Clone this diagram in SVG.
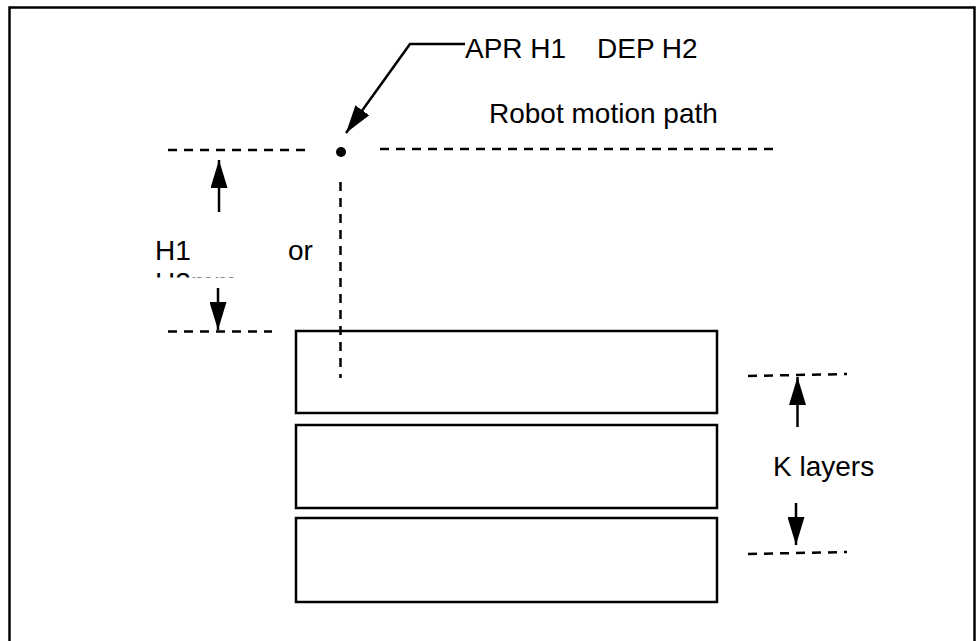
<svg xmlns="http://www.w3.org/2000/svg" width="976" height="641" viewBox="0 0 976 641">
<style>
.t{font-family:"Liberation Sans",Arial,sans-serif;font-size:28px;fill:#000}
.d{stroke:#000;stroke-width:2.5;stroke-dasharray:9 7;fill:none}
.s{stroke:#000;stroke-width:2.5;fill:none}
.b{stroke:#000;stroke-width:2.5;fill:#fff}
</style>
<defs>
<marker id="ah" markerUnits="userSpaceOnUse" markerWidth="28" markerHeight="17" refX="28" refY="8.5" orient="auto">
<path d="M0,0 L28,8.5 L0,17 z" fill="#000"/>
</marker>
<clipPath id="clipH"><rect x="130" y="230" width="200" height="47.5"/></clipPath>
</defs>
<rect id="frame" x="9.5" y="7.5" width="965" height="700" class="s"/>
<g id="layer1"><rect x="296" y="331" width="421" height="82" class="b"/></g>
<g id="layer2"><rect x="296" y="425" width="421" height="83" class="b"/></g>
<g id="layer3"><rect x="296" y="518" width="421" height="84" class="b"/></g>
<g id="point"><circle cx="341" cy="152" r="5" fill="#000"/></g>
<g id="connectors">
<path class="s" d="M465,44 H410 L346,133" marker-end="url(#ah)"/>
<line class="d" x1="168" y1="150" x2="305" y2="150"/>
<line class="d" x1="380" y1="149" x2="775" y2="149"/>
<line class="d" x1="168" y1="331.5" x2="272" y2="331.5"/>
<line class="d" x1="340.5" y1="182" x2="340.5" y2="378"/>
<line class="d" x1="748" y1="376" x2="847" y2="374"/>
<line class="d" x1="748" y1="554" x2="847" y2="552"/>
<line class="s" x1="219" y1="212" x2="219" y2="160" marker-end="url(#ah)"/>
<line class="s" x1="218" y1="288" x2="218" y2="330" marker-end="url(#ah)"/>
<line class="s" x1="797.5" y1="427" x2="797.5" y2="377" marker-end="url(#ah)"/>
<line class="s" x1="796" y1="503" x2="796" y2="545" marker-end="url(#ah)"/>
</g>
<g id="labels">
<text class="t" y="58"><tspan x="465">APR H1</tspan><tspan x="597">DEP H2</tspan></text>
<text class="t" x="489" y="123">Robot motion path</text>
<text class="t" x="155" y="260">H1</text>
<text class="t" x="288" y="260">or</text>
<text class="t" x="155" y="292" clip-path="url(#clipH)">H2mm</text>
<text class="t" x="773" y="476">K layers</text>
</g>
</svg>
